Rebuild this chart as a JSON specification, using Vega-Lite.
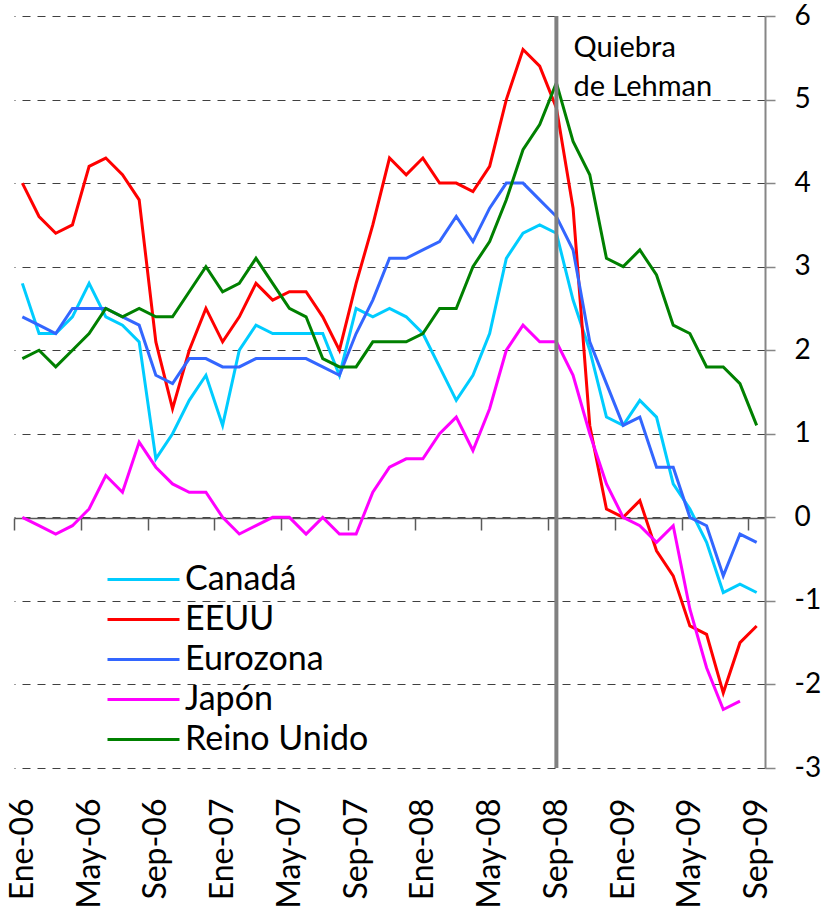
{
  "$schema": "https://vega.github.io/schema/vega-lite/v6.json",
  "width": 751,
  "height": 752,
  "autosize": "none",
  "padding": {"left": 14, "top": 16, "right": 59, "bottom": 151},
  "background": "white",
  "config": {"view": {"stroke": null}, "font": "Lato"},
  "data": {
    "values": [
      {"t": 0, "mes": "Ene-06", "Canadá": 2.8, "EEUU": 4.0, "Eurozona": 2.4, "Japón": 0.0, "Reino Unido": 1.9},
      {"t": 1, "mes": "Feb-06", "Canadá": 2.2, "EEUU": 3.6, "Eurozona": 2.3, "Japón": -0.1, "Reino Unido": 2.0},
      {"t": 2, "mes": "Mar-06", "Canadá": 2.2, "EEUU": 3.4, "Eurozona": 2.2, "Japón": -0.2, "Reino Unido": 1.8},
      {"t": 3, "mes": "Abr-06", "Canadá": 2.4, "EEUU": 3.5, "Eurozona": 2.5, "Japón": -0.1, "Reino Unido": 2.0},
      {"t": 4, "mes": "May-06", "Canadá": 2.8, "EEUU": 4.2, "Eurozona": 2.5, "Japón": 0.1, "Reino Unido": 2.2},
      {"t": 5, "mes": "Jun-06", "Canadá": 2.4, "EEUU": 4.3, "Eurozona": 2.5, "Japón": 0.5, "Reino Unido": 2.5},
      {"t": 6, "mes": "Jul-06", "Canadá": 2.3, "EEUU": 4.1, "Eurozona": 2.4, "Japón": 0.3, "Reino Unido": 2.4},
      {"t": 7, "mes": "Ago-06", "Canadá": 2.1, "EEUU": 3.8, "Eurozona": 2.3, "Japón": 0.9, "Reino Unido": 2.5},
      {"t": 8, "mes": "Sep-06", "Canadá": 0.7, "EEUU": 2.1, "Eurozona": 1.7, "Japón": 0.6, "Reino Unido": 2.4},
      {"t": 9, "mes": "Oct-06", "Canadá": 1.0, "EEUU": 1.3, "Eurozona": 1.6, "Japón": 0.4, "Reino Unido": 2.4},
      {"t": 10, "mes": "Nov-06", "Canadá": 1.4, "EEUU": 2.0, "Eurozona": 1.9, "Japón": 0.3, "Reino Unido": 2.7},
      {"t": 11, "mes": "Dic-06", "Canadá": 1.7, "EEUU": 2.5, "Eurozona": 1.9, "Japón": 0.3, "Reino Unido": 3.0},
      {"t": 12, "mes": "Ene-07", "Canadá": 1.1, "EEUU": 2.1, "Eurozona": 1.8, "Japón": 0.0, "Reino Unido": 2.7},
      {"t": 13, "mes": "Feb-07", "Canadá": 2.0, "EEUU": 2.4, "Eurozona": 1.8, "Japón": -0.2, "Reino Unido": 2.8},
      {"t": 14, "mes": "Mar-07", "Canadá": 2.3, "EEUU": 2.8, "Eurozona": 1.9, "Japón": -0.1, "Reino Unido": 3.1},
      {"t": 15, "mes": "Abr-07", "Canadá": 2.2, "EEUU": 2.6, "Eurozona": 1.9, "Japón": 0.0, "Reino Unido": 2.8},
      {"t": 16, "mes": "May-07", "Canadá": 2.2, "EEUU": 2.7, "Eurozona": 1.9, "Japón": 0.0, "Reino Unido": 2.5},
      {"t": 17, "mes": "Jun-07", "Canadá": 2.2, "EEUU": 2.7, "Eurozona": 1.9, "Japón": -0.2, "Reino Unido": 2.4},
      {"t": 18, "mes": "Jul-07", "Canadá": 2.2, "EEUU": 2.4, "Eurozona": 1.8, "Japón": 0.0, "Reino Unido": 1.9},
      {"t": 19, "mes": "Ago-07", "Canadá": 1.7, "EEUU": 2.0, "Eurozona": 1.7, "Japón": -0.2, "Reino Unido": 1.8},
      {"t": 20, "mes": "Sep-07", "Canadá": 2.5, "EEUU": 2.8, "Eurozona": 2.2, "Japón": -0.2, "Reino Unido": 1.8},
      {"t": 21, "mes": "Oct-07", "Canadá": 2.4, "EEUU": 3.5, "Eurozona": 2.6, "Japón": 0.3, "Reino Unido": 2.1},
      {"t": 22, "mes": "Nov-07", "Canadá": 2.5, "EEUU": 4.3, "Eurozona": 3.1, "Japón": 0.6, "Reino Unido": 2.1},
      {"t": 23, "mes": "Dic-07", "Canadá": 2.4, "EEUU": 4.1, "Eurozona": 3.1, "Japón": 0.7, "Reino Unido": 2.1},
      {"t": 24, "mes": "Ene-08", "Canadá": 2.2, "EEUU": 4.3, "Eurozona": 3.2, "Japón": 0.7, "Reino Unido": 2.2},
      {"t": 25, "mes": "Feb-08", "Canadá": 1.8, "EEUU": 4.0, "Eurozona": 3.3, "Japón": 1.0, "Reino Unido": 2.5},
      {"t": 26, "mes": "Mar-08", "Canadá": 1.4, "EEUU": 4.0, "Eurozona": 3.6, "Japón": 1.2, "Reino Unido": 2.5},
      {"t": 27, "mes": "Abr-08", "Canadá": 1.7, "EEUU": 3.9, "Eurozona": 3.3, "Japón": 0.8, "Reino Unido": 3.0},
      {"t": 28, "mes": "May-08", "Canadá": 2.2, "EEUU": 4.2, "Eurozona": 3.7, "Japón": 1.3, "Reino Unido": 3.3},
      {"t": 29, "mes": "Jun-08", "Canadá": 3.1, "EEUU": 5.0, "Eurozona": 4.0, "Japón": 2.0, "Reino Unido": 3.8},
      {"t": 30, "mes": "Jul-08", "Canadá": 3.4, "EEUU": 5.6, "Eurozona": 4.0, "Japón": 2.3, "Reino Unido": 4.4},
      {"t": 31, "mes": "Ago-08", "Canadá": 3.5, "EEUU": 5.4, "Eurozona": 3.8, "Japón": 2.1, "Reino Unido": 4.7},
      {"t": 32, "mes": "Sep-08", "Canadá": 3.4, "EEUU": 4.9, "Eurozona": 3.6, "Japón": 2.1, "Reino Unido": 5.2},
      {"t": 33, "mes": "Oct-08", "Canadá": 2.6, "EEUU": 3.7, "Eurozona": 3.2, "Japón": 1.7, "Reino Unido": 4.5},
      {"t": 34, "mes": "Nov-08", "Canadá": 2.0, "EEUU": 1.1, "Eurozona": 2.1, "Japón": 1.0, "Reino Unido": 4.1},
      {"t": 35, "mes": "Dic-08", "Canadá": 1.2, "EEUU": 0.1, "Eurozona": 1.6, "Japón": 0.4, "Reino Unido": 3.1},
      {"t": 36, "mes": "Ene-09", "Canadá": 1.1, "EEUU": 0.0, "Eurozona": 1.1, "Japón": 0.0, "Reino Unido": 3.0},
      {"t": 37, "mes": "Feb-09", "Canadá": 1.4, "EEUU": 0.2, "Eurozona": 1.2, "Japón": -0.1, "Reino Unido": 3.2},
      {"t": 38, "mes": "Mar-09", "Canadá": 1.2, "EEUU": -0.4, "Eurozona": 0.6, "Japón": -0.3, "Reino Unido": 2.9},
      {"t": 39, "mes": "Abr-09", "Canadá": 0.4, "EEUU": -0.7, "Eurozona": 0.6, "Japón": -0.1, "Reino Unido": 2.3},
      {"t": 40, "mes": "May-09", "Canadá": 0.1, "EEUU": -1.3, "Eurozona": 0.0, "Japón": -1.1, "Reino Unido": 2.2},
      {"t": 41, "mes": "Jun-09", "Canadá": -0.3, "EEUU": -1.4, "Eurozona": -0.1, "Japón": -1.8, "Reino Unido": 1.8},
      {"t": 42, "mes": "Jul-09", "Canadá": -0.9, "EEUU": -2.1, "Eurozona": -0.7, "Japón": -2.3, "Reino Unido": 1.8},
      {"t": 43, "mes": "Ago-09", "Canadá": -0.8, "EEUU": -1.5, "Eurozona": -0.2, "Japón": -2.2, "Reino Unido": 1.6},
      {"t": 44, "mes": "Sep-09", "Canadá": -0.9, "EEUU": -1.3, "Eurozona": -0.3, "Japón": null, "Reino Unido": 1.1}
    ]
  },
  "layer": [
    {
      "transform": [{"fold": ["Canadá", "EEUU", "Eurozona", "Japón", "Reino Unido"], "as": ["serie", "valor"]}],
      "mark": {"type": "line", "strokeWidth": 3},
      "encoding": {
        "x": {
          "field": "t", "type": "quantitative",
          "scale": {"domain": [-0.5, 44.5], "nice": false, "zero": false},
          "axis": {
            "orient": "bottom", "offset": -250, "title": null,
            "values": [-0.5, 3.5, 7.5, 11.5, 15.5, 19.5, 23.5, 27.5, 31.5, 35.5, 39.5, 43.5],
            "labels": false, "grid": false, "tickSize": 12, "tickWidth": 1.5,
            "tickColor": "#595959", "domainColor": "#595959", "domainWidth": 1.5
          }
        },
        "y": {
          "field": "valor", "type": "quantitative",
          "scale": {"domain": [-3, 6], "nice": false, "zero": false},
          "axis": {
            "orient": "right", "title": null,
            "values": [-3, -2, -1, 0, 1, 2, 3, 4, 5, 6],
            "labelExpr": "'' + datum.value",
            "grid": true, "gridDash": [8, 7], "gridColor": "#404040", "gridWidth": 1.2,
            "domainColor": "#868686", "domainWidth": 2,
            "tickColor": "#868686", "tickSize": 10, "tickWidth": 1.5,
            "labelFont": "Lato", "labelFontSize": 28, "labelColor": "black", "labelPadding": 19
          }
        },
        "color": {
          "field": "serie", "type": "nominal",
          "scale": {
            "domain": ["Canadá", "EEUU", "Eurozona", "Japón", "Reino Unido"],
            "range": ["#00CCFF", "#FF0000", "#3366FF", "#FF00FF", "#008000"]
          },
          "legend": {
            "title": null, "orient": "none", "legendX": 108, "legendY": 542,
            "padding": 0, "rowPadding": 1,
            "symbolType": "M-1.8,0H1.8", "symbolSize": 1600, "symbolStrokeWidth": 3,
            "labelFont": "Lato", "labelFontSize": 34, "labelColor": "black", "labelOffset": 20,
            "labelLimit": 400
          }
        }
      }
    },
    {
      "data": {"values": [{"t": 32, "evento": "Quiebra de Lehman"}]},
      "mark": {"type": "rule", "color": "#808080", "strokeWidth": 4},
      "encoding": {
        "x": {
          "field": "t", "type": "quantitative",
          "axis": {
            "orient": "bottom", "title": null,
            "values": [0, 4, 8, 12, 16, 20, 24, 28, 32, 36, 40, 44],
            "labelExpr": "['Ene','May','Sep'][(datum.value/4)%3] + '-0' + (6 + floor(datum.value/12))",
            "labelAngle": -90, "labelFont": "Lato", "labelFontSize": 32, "labelColor": "black",
            "labelPadding": 30, "ticks": false, "domain": false, "grid": false,
            "labelFlush": false, "labelOverlap": false, "labelBound": false
          }
        }
      }
    },
    {
      "data": {"values": [{"t": 32, "y": 6, "texto": "Quiebra\nde Lehman"}]},
      "mark": {"type": "text", "align": "left", "baseline": "alphabetic", "dx": 17, "dy": 41, "fontSize": 29, "font": "Lato", "lineBreak": "\n", "lineHeight": 39, "color": "black"},
      "encoding": {
        "x": {"field": "t", "type": "quantitative", "axis": null},
        "y": {"field": "y", "type": "quantitative"},
        "text": {"field": "texto"}
      }
    }
  ],
  "resolve": {"axis": {"x": "independent"}}
}
